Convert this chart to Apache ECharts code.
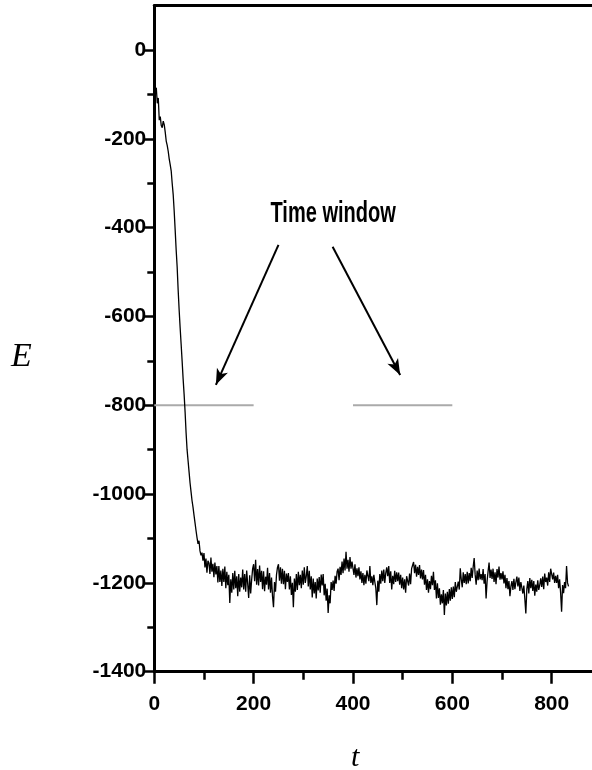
<!DOCTYPE html>
<html>
<head>
<meta charset="utf-8">
<script src="https://cdn.jsdelivr.net/npm/echarts@6/dist/echarts.min.js"></script>
<style>
html,body{margin:0;padding:0;background:#fff;}
#c{width:592px;height:770px;}
</style>
</head>
<body>
<div id="c"></div>
<script>
// ---- data ----
var tValues = [
0,2,4,6,8,10,12,14,16,18,20,22,24,26,28,30,32,34,36,38,40,42,44,46,48,50,52,54,56,58,60,62,64,66,68,70,72,74,76,78,80,82,84,86,88,90,92,94,96,98,
100,102,104,106,108,110,112,114,116,118,120,122,124,126,128,130,132,134,136,138,140,142,144,146,148,150,152,154,156,158,160,162,164,166,168,170,172,174,176,178,180,182,184,186,188,190,192,194,196,198,
200,202,204,206,208,210,212,214,216,218,220,222,224,226,228,230,232,234,236,238,240,242,244,246,248,250,252,254,256,258,260,262,264,266,268,270,272,274,276,278,280,282,284,286,288,290,292,294,296,298,
300,302,304,306,308,310,312,314,316,318,320,322,324,326,328,330,332,334,336,338,340,342,344,346,348,350,352,354,356,358,360,362,364,366,368,370,372,374,376,378,380,382,384,386,388,390,392,394,396,398,
400,402,404,406,408,410,412,414,416,418,420,422,424,426,428,430,432,434,436,438,440,442,444,446,448,450,452,454,456,458,460,462,464,466,468,470,472,474,476,478,480,482,484,486,488,490,492,494,496,498,
500,502,504,506,508,510,512,514,516,518,520,522,524,526,528,530,532,534,536,538,540,542,544,546,548,550,552,554,556,558,560,562,564,566,568,570,572,574,576,578,580,582,584,586,588,590,592,594,596,598,
600,602,604,606,608,610,612,614,616,618,620,622,624,626,628,630,632,634,636,638,640,642,644,646,648,650,652,654,656,658,660,662,664,666,668,670,672,674,676,678,680,682,684,686,688,690,692,694,696,698,
700,702,704,706,708,710,712,714,716,718,720,722,724,726,728,730,732,734,736,738,740,742,744,746,748,750,752,754,756,758,760,762,764,766,768,770,772,774,776,778,780,782,784,786,788,790,792,794,796,798,
800,802,804,806,808,810,812,814,816,818,820,822,824,826,828,830,832,834];
var eValues = [
-78,-95,-85,-120,-108,-158,-150,-170,-175,-160,-168,-185,-205,-215,-228,-245,-258,-272,-300,-325,-362,-405,-450,-488,-540,-585,-625,-662,-700,-740,-775,-815,-862,-900,-925,-950,-975,-995,-1015,-1030,-1048,-1065,-1082,-1098,-1112,-1105,-1128,-1138,-1132,-1150,
-1133,-1165,-1145,-1177,-1150,-1155,-1180,-1143,-1175,-1157,-1187,-1154,-1181,-1162,-1199,-1162,-1198,-1172,-1207,-1168,-1198,-1163,-1212,-1175,-1205,-1182,-1245,-1192,-1222,-1178,-1215,-1173,-1212,-1185,-1230,-1180,-1220,-1188,-1210,-1170,-1215,-1180,-1220,-1172,-1202,-1234,-1183,-1224,-1193,-1168,
-1158,-1196,-1148,-1204,-1169,-1206,-1161,-1198,-1173,-1214,-1174,-1219,-1186,-1204,-1166,-1215,-1178,-1222,-1188,-1230,-1255,-1198,-1220,-1182,-1165,-1158,-1195,-1165,-1202,-1168,-1203,-1173,-1214,-1179,-1198,-1178,-1215,-1185,-1227,-1200,-1255,-1190,-1220,-1180,-1216,-1175,-1205,-1182,-1212,-1172,
-1204,-1165,-1200,-1185,-1162,-1208,-1173,-1215,-1185,-1233,-1190,-1224,-1198,-1235,-1190,-1217,-1187,-1222,-1181,-1206,-1180,-1228,-1202,-1240,-1213,-1268,-1228,-1246,-1198,-1216,-1195,-1218,-1184,-1202,-1175,-1168,-1194,-1164,-1182,-1152,-1178,-1145,-1172,-1130,-1168,-1148,-1175,-1142,-1168,-1152,
-1155,-1182,-1158,-1188,-1167,-1185,-1165,-1192,-1174,-1200,-1178,-1205,-1182,-1202,-1172,-1170,-1196,-1162,-1200,-1185,-1205,-1182,-1198,-1212,-1250,-1195,-1220,-1180,-1202,-1172,-1196,-1170,-1200,-1178,-1165,-1185,-1162,-1200,-1174,-1215,-1184,-1203,-1173,-1198,-1176,-1196,-1177,-1204,-1182,-1212,
-1188,-1215,-1192,-1222,-1185,-1188,-1206,-1179,-1203,-1168,-1164,-1153,-1178,-1159,-1186,-1164,-1182,-1160,-1190,-1170,-1192,-1171,-1204,-1182,-1216,-1192,-1222,-1196,-1214,-1184,-1205,-1175,-1216,-1194,-1235,-1201,-1234,-1212,-1249,-1226,-1246,-1216,-1272,-1224,-1251,-1220,-1247,-1214,-1240,-1210,
-1236,-1208,-1232,-1198,-1220,-1222,-1197,-1215,-1167,-1192,-1210,-1176,-1200,-1180,-1203,-1175,-1201,-1178,-1196,-1166,-1189,-1164,-1144,-1182,-1204,-1172,-1194,-1168,-1192,-1180,-1194,-1169,-1202,-1180,-1235,-1196,-1174,-1154,-1189,-1170,-1191,-1168,-1198,-1176,-1203,-1169,-1188,-1163,-1193,-1178,
-1192,-1174,-1201,-1182,-1212,-1189,-1214,-1196,-1230,-1208,-1196,-1216,-1191,-1214,-1198,-1186,-1208,-1188,-1218,-1198,-1202,-1224,-1206,-1236,-1269,-1214,-1196,-1224,-1189,-1212,-1193,-1218,-1196,-1229,-1204,-1220,-1194,-1216,-1205,-1190,-1209,-1186,-1214,-1179,-1198,-1188,-1206,-1176,-1198,-1168,
-1165,-1192,-1177,-1200,-1184,-1200,-1182,-1212,-1192,-1222,-1265,-1205,-1223,-1198,-1212,-1162,-1200,-1208];

var xMajorTicks = [0,200,400,600,800];
var yMajorTicks = [-1400,-1200,-1000,-800,-600,-400,-200,0];
var yMinorTicks = [-1300,-1100,-900,-700,-500,-300,-100];

var windowLevel = -800;
var windowLeft = [0,200];
var windowRight = [400,600];
var annotationText = 'Time window';
var annotationAt = [360,-370];
var arrowLeft = [[250,-439],[124,-754]];
var arrowRight = [[359,-443],[495,-732]];

// ---- chart ----
var curve = tValues.map(function(t,i){return [t,eValues[i]];});
var winData = [[windowLeft[0],windowLevel],[windowLeft[1],windowLevel],['-','-'],[windowRight[0],windowLevel],[windowRight[1],windowLevel]];

var labelFont = "'Liberation Sans',Arial,Helvetica,sans-serif";
var serifFont = "'Liberation Serif','DejaVu Serif',serif";
var plain = function(v){return String(v);};

var chart = echarts.init(document.getElementById('c'), null, {renderer:'canvas'});
chart.setOption({
  animation:false,
  backgroundColor:'#fff',
  grid:{left:154.3, top:5.6, bottom:98.3, right:-59, outerBoundsMode:'none', containLabel:false},
  xAxis:[{
    type:'value', min:0, max:1000, interval:200, position:'bottom',
    axisLine:{show:true, onZero:false, lineStyle:{color:'#000', width:3}},
    axisTick:{show:true, length:12, lineStyle:{color:'#000', width:2.5}},
    minorTick:{show:true, splitNumber:2, length:8, lineStyle:{color:'#000', width:2.5}},
    splitLine:{show:false},
    axisLabel:{show:true, margin:22, color:'#000', fontSize:21, fontWeight:'bold', fontFamily:labelFont,
      customValues:xMajorTicks, formatter:plain}
  },{
    type:'value', min:0, max:1000, position:'top',
    axisLine:{show:true, onZero:false, lineStyle:{color:'#000', width:3}},
    axisTick:{show:false}, axisLabel:{show:false}, splitLine:{show:false}
  }],
  yAxis:[{
    type:'value', min:-1400, max:100, position:'left',
    axisLine:{show:true, onZero:false, lineStyle:{color:'#000', width:3}},
    axisTick:{show:true, length:10, customValues:yMajorTicks, lineStyle:{color:'#000', width:2.5}},
    axisLabel:{show:true, margin:8, color:'#000', fontSize:21, fontWeight:'bold', fontFamily:labelFont,
      customValues:yMajorTicks, formatter:plain},
    splitLine:{show:false}
  },{
    type:'value', min:-1400, max:100, position:'left',
    axisLine:{show:false},
    axisTick:{show:true, length:7, customValues:yMinorTicks, lineStyle:{color:'#000', width:2.5}},
    axisLabel:{show:false},
    splitLine:{show:false}
  }],
  series:[{
    type:'line', data:curve, showSymbol:false, symbol:'none',
    lineStyle:{color:'#000', width:1.3}, z:5,
    markLine:{
      silent:true, symbol:['none','arrow'], symbolSize:[9,16], precision:0,
      label:{show:false},
      lineStyle:{color:'#000', width:2, type:'solid'},
      data:[
        [{coord:arrowLeft[0]},{coord:arrowLeft[1]}],
        [{coord:arrowRight[0]},{coord:arrowRight[1]}]
      ]
    }
  },{
    type:'line', data:winData, showSymbol:false, symbol:'none', connectNulls:false,
    lineStyle:{color:'#aaaaaa', width:2}, z:3
  }]
});
// annotation text placed through the chart's own coordinate conversion, drawn condensed
var p = chart.convertToPixel({gridIndex:0}, annotationAt);
chart.setOption({graphic:[
  {type:'text', left:11, top:340, style:{text:'E', fontSize:34, fontStyle:'italic', fontFamily:serifFont, fill:'#000'}},
  {type:'text', left:351, top:743, style:{text:'t', fontSize:30, fontStyle:'italic', fontFamily:serifFont, fill:'#000'}},
  {type:'text', x:p[0], y:p[1], scaleX:0.69, scaleY:1, z:10,
   style:{text:annotationText, x:0, y:0, align:'center', verticalAlign:'middle',
     fontSize:29, fontWeight:'bold', fontFamily:labelFont, fill:'#000'}}
]});
</script>
</body>
</html>
